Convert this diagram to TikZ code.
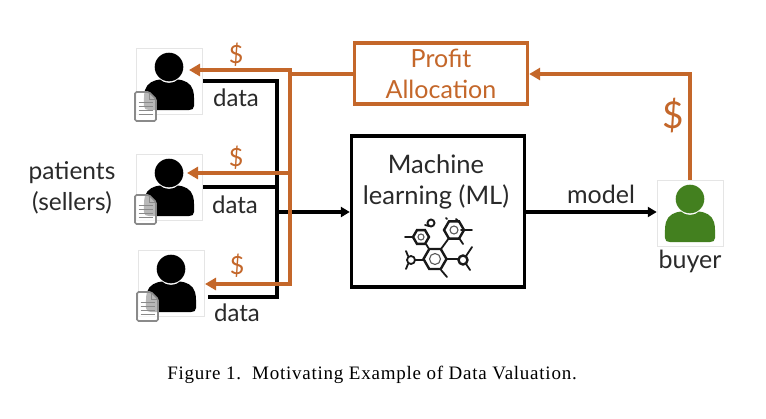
\documentclass[tikz,border=0pt]{standalone}
\usepackage{fontspec}
\setmainfont{Lato}
\newfontfamily\capfont[LetterSpace=4]{Liberation Serif}
\usetikzlibrary{arrows.meta,calc}
\definecolor{rust}{HTML}{C4672A}
\definecolor{leaf}{HTML}{43801F}
\definecolor{docgray}{HTML}{8A8A8A}
\definecolor{ink}{HTML}{2A2A2A}
\tikzset{
  frame/.style={draw=black!10,line width=0.5pt,fill=white,minimum width=66pt,minimum height=66pt,inner sep=0pt},
  blackwire/.style={draw=black,line width=3.2pt},
  rustwire/.style={draw=rust,line width=3.4pt},
  blackarrow/.style={blackwire,-{Triangle[length=9pt,width=10pt]}},
  rustarrow/.style={rustwire,-{Triangle[length=11pt,width=12pt]}},
  lab/.style={text=ink,font=\fontsize{25}{31}\selectfont,inner sep=0pt,align=center},
  datalab/.style={text=ink,font=\fontsize{24}{26}\selectfont,inner sep=0pt},
  money/.style={text=rust,font=\fontsize{25}{28}\selectfont,inner sep=0pt},
  bigbox/.style={draw=black,line width=3.3pt,fill=white,inner sep=0pt},
  profitbox/.style={draw=rust,line width=3.4pt,fill=white,inner sep=0pt,text=rust,align=center,font=\fontsize{25}{31}\selectfont},
  bond/.style={draw=black!90,line width=1.8pt,line cap=round},
  ring/.style={draw=black!90,line width=2.4pt},
}
% person glyph centred on the frame's centre
\newcommand{\persona}[2]{%
  \begin{scope}[shift={(#1)}]
    \fill[#2] (0,-14) circle (14.3);
    \fill[#2] (-25,25) .. controls (-25,22) and (-25.5,14) .. (-24,9)
      .. controls (-22,2) and (-15,-1) .. (-9,-1.5)
      .. controls (-5,3) and (5,3) .. (9,-1.5)
      .. controls (15,-1) and (22,2) .. (24,9)
      .. controls (25.5,14) and (25,22) .. (25,25)
      .. controls (25,28) and (23,29) .. (20,29) -- (-20,29)
      .. controls (-23,29) and (-25,28) .. (-25,25) -- cycle;
  \end{scope}}
\newcommand{\sheet}[1]{%
  \begin{scope}[shift={(#1)}]
    \filldraw[draw=docgray,line width=1.7pt,fill=white,fill opacity=0.72,rounded corners=1.5pt]
      (0,0) -- (14,0) -- (21,7) -- (21,29) -- (0,29) -- cycle;
    \draw[docgray,line width=1pt] (14,0) -- (14,7) -- (21,7);
    \foreach \yy in {10,14,18,22} \draw[docgray,line width=0.8pt] (3.5,\yy) -- (18,\yy);
  \end{scope}}
\newcommand{\hexa}[3]{%
  \draw[ring] ($(#1)+(0:#2)$) -- ($(#1)+(60:#2)$) -- ($(#1)+(120:#2)$) -- ($(#1)+(180:#2)$) -- ($(#1)+(240:#2)$) -- ($(#1)+(300:#2)$) -- cycle;
  \draw[draw=black!65,line width=1.1pt] (#1) circle (#3);}
\begin{document}
\begin{tikzpicture}[x=1pt,y=-1pt]
\useasboundingbox (0,0) rectangle (766,418);
\fill[white] (0,0) rectangle (766,418);

% frames
\node[frame] (p1) at (169,81) {};
\node[frame] (p2) at (169,187) {};
\node[frame] (p3) at (171,283) {};
\node[frame] (buyerframe) at (690,213) {};

% wire junctions
\coordinate (bc1) at (277,81);
\coordinate (bc2) at (277,187);
\coordinate (bc3) at (277,297);
\coordinate (bcm) at (277,212);
\coordinate (d1) at (203,81);
\coordinate (d2) at (203,187);
\coordinate (d3) at (208,297);
\coordinate (rc1) at (290,70);
\coordinate (rc2) at (290,173);
\coordinate (rc3) at (290,284);
\coordinate (rcm) at (290,74);
\coordinate (a1) at (189,70);
\coordinate (a2) at (187,173);
\coordinate (a3) at (205,284);
\coordinate (bend) at (690,74);

% boxes
\node[bigbox,minimum width=173pt,minimum height=151pt] (ml) at (438,211.5) {};
\node[profitbox,minimum width=173pt,minimum height=61pt] (profit) at (441,73.5) {Profit\\Allocation};

% black wires
\draw[blackwire,line cap=butt] (d1) -- (bc1) -- (bc3) -- (d3);
\draw[blackwire] (d2) -- (bc2);
\draw[blackarrow] (bcm) -- (ml.west |- bcm);

% people
\persona{p1.center}{black}
\persona{p2.center}{black}
\persona{p3.center}{black}
\persona{buyerframe.center}{leaf}
\sheet{135,92}
\sheet{135,195}
\sheet{137,292}

% rust wires
\draw[rustwire] (profit.west |- rcm) -- (rcm);
\draw[rustarrow] (rc3 |- rcm) -- (rc1) -- (a1);
\draw[rustarrow] (rc2) -- (a2);
\draw[rustarrow] (rc1) -- (rc3) -- (a3);
\draw[rustarrow,line join=miter] (buyerframe.north) -- (bend) -- (profit.east |- bend);

% model arrow
\draw[blackarrow] (ml.east |- bcm) -- (buyerframe.west |- bcm);

% molecule
\hexa{435,259}{11.5}{5.5}
\hexa{421,237}{8}{3}
\hexa{454,230}{10}{4}
\draw[ring,line width=1.9pt] (431,223) circle (3.5);
\draw[ring] (463,260) circle (4.5);
\draw[ring,line width=1.8pt] (411,260) circle (4);
\foreach \xa/\ya/\xb/\yb in {
  425/225/429/226, 405/237/413/237, 426/244/429/249, 449/238/441/249,
  447/219/446/218, 461/230/472/230, 459/238/463/244, 459/222/456/219,
  446.5/259/458/259, 466/256/472/247, 466/264/470/270, 441/270/447/277,
  424/260/415/260, 408/256/406/251, 408/264/406/269}
  \draw[bond] (\xa,\ya) -- (\xb,\yb);

% labels
\node[money] (m1) at (236,55) {\$};
\node[money] (m2) at (236,158) {\$};
\node[money] (m3) at (237,266) {\$};
\node[money,font=\fontsize{37}{40}\selectfont] (m4) at (673,116) {\$};
\node[datalab] (t1) at (236,98) {data};
\node[datalab] (t2) at (235,205) {data};
\node[datalab] (t3) at (237,313) {data};
\node[lab,font=\fontsize{24.5}{31}\selectfont] (patients) at (72,188) {patients\\(sellers)};
\node[lab,font=\fontsize{25.5}{31}\selectfont] (mltext) at (436,182) {Machine\\learning (ML)};
\node[lab] (modeltext) at (601,194) {model};
\node[lab] (buyertext) at (690,261) {buyer};
\node[inner sep=0pt,text=black,font=\capfont\fontsize{19}{22}\selectfont] (caption) at (372,375) {Figure 1.\ \ Motivating Example of Data Valuation.};
\end{tikzpicture}
\end{document}
